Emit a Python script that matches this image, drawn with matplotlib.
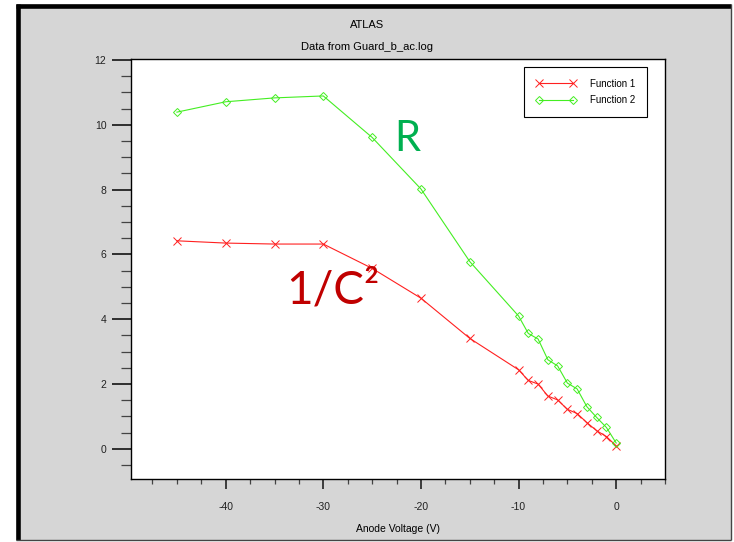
import matplotlib
matplotlib.use("Agg")
import matplotlib.pyplot as plt
from matplotlib.lines import Line2D
from matplotlib.patches import Rectangle
from matplotlib.ticker import MultipleLocator

# Data
volts = [-45, -40, -35, -30, -25, -20, -15, -10, -9, -8, -7, -6, -5, -4, -3, -2, -1, 0]
func1 = [6.42, 6.35, 6.32, 6.32, 5.57, 4.65, 3.41, 2.44, 2.11, 2.00, 1.63, 1.51,
         1.22, 1.09, 0.81, 0.56, 0.38, 0.09]
func2 = [10.39, 10.71, 10.83, 10.89, 9.61, 8.02, 5.78, 4.10, 3.56, 3.39, 2.75, 2.56,
         2.03, 1.85, 1.30, 0.97, 0.66, 0.18]
labels = ["Function 1", "Function 2"]

plt.rcParams["axes.unicode_minus"] = False

W, H = 734, 542
fig = plt.figure(figsize=(W/100, H/100), dpi=100)
fig.patch.set_facecolor("white")

narrow = ["Liberation Sans Narrow", "Liberation Sans", "DejaVu Sans"]

# grey panel with bevelled frame
panel = Rectangle((16/W, 1-540/H), (731-16)/W, (540-4)/H, transform=fig.transFigure,
                  facecolor="#d6d6d6", edgecolor="none", zorder=-10)
fig.add_artist(panel)
frame = [([18.3, 18.3], [540, 4], "black", 3.3),
         ([16, 731], [6.2, 6.2], "black", 3.3),
         ([730.7, 730.7], [540, 4], "#444444", 1.0),
         ([16, 731], [539.5, 539.5], "#444444", 1.0)]
for xs, ys, c, lw in frame:
    fig.add_artist(Line2D([x/W for x in xs], [1-y/H for y in ys], transform=fig.transFigure,
                          color=c, lw=lw, solid_capstyle="butt", zorder=-5))

ax = fig.add_axes([131/W, 1-479/H, (665-131)/W, (479-59)/H])
ax.set_facecolor("white")

ax.plot(volts, func1, color="#ff2020", lw=0.8, marker="x", ms=5.5, mew=0.7,
        label=labels[0])
ax.plot(volts, func2, color="#44ee22", lw=0.8, marker="D", ms=4.5, mew=0.7,
        mfc="none", label=labels[1])

ax.set_xlim(-49.7, 5.0)
ax.set_ylim(-0.93, 12.03)
ax.xaxis.set_major_locator(MultipleLocator(10))
ax.xaxis.set_minor_locator(MultipleLocator(2.5))
ax.yaxis.set_major_locator(MultipleLocator(2))
ax.yaxis.set_minor_locator(MultipleLocator(0.5))

for s in ax.spines.values():
    s.set_linewidth(1.0)
    s.set_color("black")

ax.tick_params(axis="x", which="major", direction="out", length=7.2, width=1.2,
               color="#222222", labelsize=7.5, pad=9)
ax.tick_params(axis="x", which="minor", direction="out", length=3.6, width=0.9,
               color="#444444")
ax.tick_params(axis="y", which="major", direction="out", length=13.7, width=1.3,
               color="#222222", labelsize=7.5, pad=4)
ax.tick_params(axis="y", which="minor", direction="out", length=7.2, width=0.9,
               color="#444444")
for lab in ax.get_xticklabels() + ax.get_yticklabels():
    lab.set_family(narrow)
    lab.set_color("#222222")

ax.set_xlabel("Anode Voltage (V)", fontsize=7.5, family=narrow, labelpad=9)

fig.text(367/W, 1-25/H, "ATLAS", ha="center", va="center", fontsize=8, family=narrow)
fig.text(367/W, 1-47/H, "Data from Guard_b_ac.log", ha="center", va="center",
         fontsize=8, family=narrow)

leg = ax.legend(loc="upper right", bbox_to_anchor=(0.9663, 0.981), numpoints=2,
                handlelength=4.1, handletextpad=1.45, fancybox=False, borderaxespad=0,
                framealpha=1, edgecolor="black", borderpad=1.2, labelspacing=0.7,
                prop={"family": narrow, "size": 7})
leg.get_frame().set_linewidth(0.8)

ax.text(-21.4, 9.55, "R", color="#00b050", fontsize=30, family=["Lato", "DejaVu Sans"],
        ha="center", va="center")
ax.text(-29.0, 4.9, "1/C\u00b2", color="#c00000", fontsize=33,
        family=["Lato", "DejaVu Sans"], ha="center", va="center")

fig.savefig("out.png", dpi=100)
